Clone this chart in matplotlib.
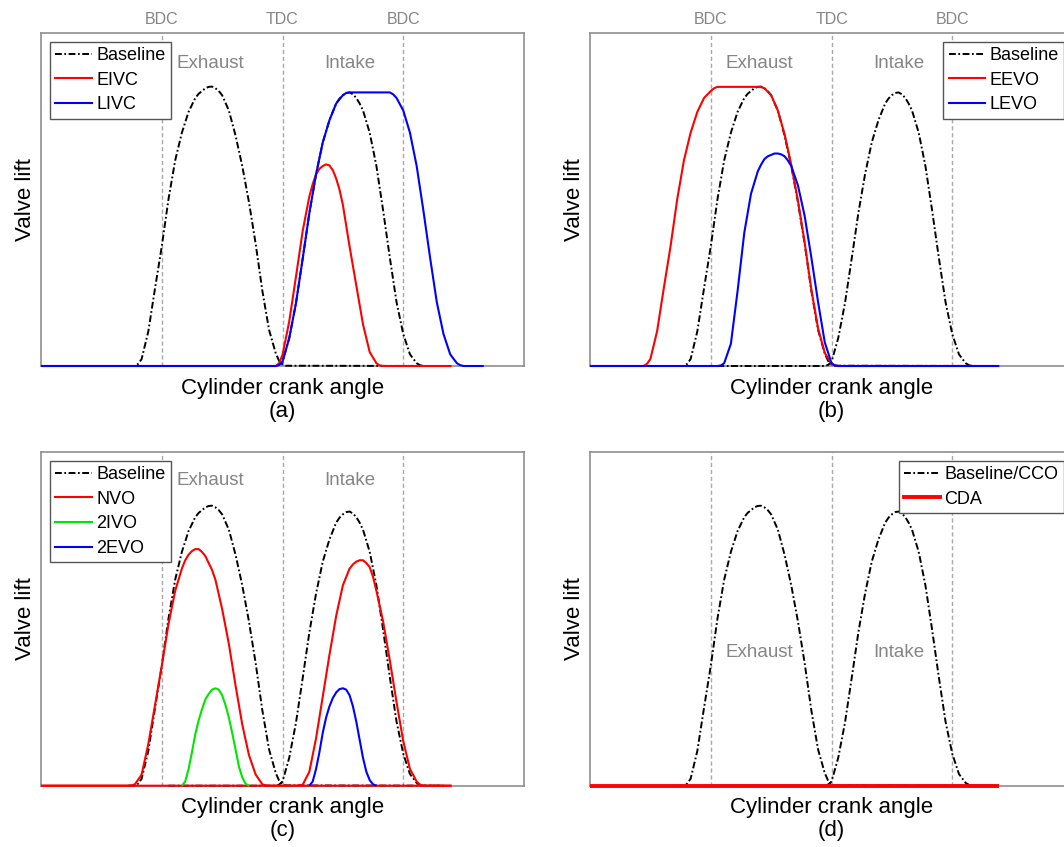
import matplotlib
matplotlib.use('Agg')
import matplotlib.pyplot as plt
from matplotlib.lines import Line2D

plt.rcParams['font.family'] = ['Liberation Sans', 'DejaVu Sans']

# ---------------- data (crank angle in degrees, valve lift normalised) ----------------
stroke_angles = [180, 360, 540]
stroke_names = ['BDC', 'TDC', 'BDC']
phase_names = ['Exhaust', 'Intake']
phase_angles = [252, 460]

# Baseline exhaust lobe
base_exh_ang = [130, 140, 145, 150, 160, 170, 180, 190, 200, 210, 220, 230, 235, 240, 245, 250,
                255, 260, 265, 270, 280, 290, 300, 310, 320, 330, 340, 350, 355, 360, 365, 600]
base_exh_lift = [0, 0, 0.008, 0.025, 0.125, 0.28, 0.43, 0.60, 0.74, 0.84, 0.915, 0.965, 0.98,
                 0.99, 1.0, 1.005, 1.006, 1.0, 0.99, 0.975, 0.92, 0.83, 0.72, 0.59, 0.44, 0.27,
                 0.13, 0.045, 0.018, 0.006, 0.001, 0]

# Baseline intake lobe
base_int_ang = [190, 350, 355, 360, 370, 380, 390, 400, 410, 420, 430, 440, 445, 450, 455, 460,
                465, 470, 475, 480, 490, 500, 510, 520, 530, 540, 550, 560, 565, 570, 600]
base_int_lift = [0, 0, 0.004, 0.015, 0.10, 0.225, 0.385, 0.55, 0.69, 0.805, 0.885, 0.945,
                 0.963, 0.975, 0.983, 0.985, 0.978, 0.965, 0.945, 0.92, 0.84, 0.72, 0.56, 0.39,
                 0.23, 0.115, 0.042, 0.01, 0.003, 0, 0]

# (a) EIVC / LIVC
eivc_ang = [0, 350, 355, 360, 370, 380, 390, 400, 405, 410, 415, 420, 425, 430, 435, 440, 445,
            450, 460, 470, 480, 490, 500, 505, 510, 612]
eivc_lift = [0, 0, 0.01, 0.04, 0.16, 0.32, 0.485, 0.61, 0.655, 0.69, 0.71, 0.72, 0.726, 0.722,
             0.705, 0.675, 0.635, 0.58, 0.43, 0.29, 0.15, 0.05, 0.01, 0.002, 0, 0]
livc_ang = [0, 350, 355, 360, 370, 380, 390, 400, 410, 420, 430, 440, 450, 455, 460, 520, 525,
            530, 540, 550, 560, 570, 580, 590, 600, 610, 620, 625, 630, 660]
livc_lift = [0, 0, 0.004, 0.015, 0.10, 0.225, 0.385, 0.55, 0.69, 0.805, 0.885, 0.945, 0.975,
             0.983, 0.985, 0.985, 0.978, 0.965, 0.92, 0.84, 0.72, 0.56, 0.39, 0.23, 0.115,
             0.042, 0.01, 0.003, 0, 0]

# (b) EEVO / LEVO
eevo_ang = [0, 80, 85, 90, 100, 110, 120, 130, 140, 150, 160, 170, 180, 185, 190, 250, 255,
            260, 270, 280, 290, 300, 310, 320, 330, 340, 350, 360, 365, 370, 610]
eevo_lift = [0, 0, 0.008, 0.025, 0.125, 0.28, 0.43, 0.60, 0.74, 0.84, 0.915, 0.965, 0.99,
             1.0, 1.005, 1.005, 1.004, 1.0, 0.975, 0.92, 0.835, 0.725, 0.595, 0.445, 0.275,
             0.135, 0.047, 0.008, 0.002, 0, 0]
levo_ang = [0, 190, 195, 200, 210, 220, 230, 240, 250, 255, 260, 265, 270, 275, 280, 285, 290,
            295, 300, 310, 320, 330, 340, 350, 360, 365, 370, 610]
levo_lift = [0, 0, 0.002, 0.01, 0.08, 0.27, 0.48, 0.62, 0.70, 0.725, 0.745, 0.755, 0.76, 0.765,
             0.765, 0.762, 0.755, 0.74, 0.72, 0.65, 0.54, 0.39, 0.23, 0.085, 0.01, 0.002, 0,
             0]

# (c) NVO (exhaust valve and intake valve), 2IVO, 2EVO
nvo_exh_ang = [0, 130, 135, 140, 150, 160, 170, 180, 190, 200, 210, 215, 220, 225, 230, 235,
               240, 245, 250, 255, 260, 270, 280, 290, 300, 310, 320, 330, 335, 340, 612]
nvo_exh_lift = [0, 0, 0.001, 0.005, 0.04, 0.15, 0.29, 0.43, 0.58, 0.70, 0.78, 0.81, 0.83,
                0.843, 0.85, 0.85, 0.84, 0.825, 0.80, 0.775, 0.74, 0.635, 0.51, 0.36, 0.22,
                0.11, 0.04, 0.005, 0.001, 0, 0]
nvo_int_ang = [0, 380, 385, 390, 400, 410, 420, 430, 440, 450, 460, 465, 470, 475, 480, 485,
               490, 495, 500, 510, 520, 530, 540, 550, 560, 565, 570, 612]
nvo_int_lift = [0, 0, 0.001, 0.003, 0.05, 0.17, 0.32, 0.47, 0.61, 0.72, 0.78, 0.795, 0.805,
                0.81, 0.81, 0.80, 0.785, 0.75, 0.70, 0.59, 0.45, 0.30, 0.16, 0.06, 0.015,
                0.004, 0, 0]
ivo2_ang = [210, 215, 220, 225, 230, 235, 240, 245, 250, 255, 260, 265, 270, 275, 280, 285,
            290, 295, 300, 305, 310]
ivo2_lift = [0, 0.015, 0.06, 0.12, 0.185, 0.235, 0.275, 0.31, 0.33, 0.345, 0.35, 0.345, 0.325,
             0.29, 0.245, 0.19, 0.13, 0.07, 0.03, 0.007, 0]
evo2_ang = [400, 405, 410, 415, 420, 425, 430, 435, 440, 445, 450, 455, 460, 465, 470, 475,
            480, 485, 490, 495, 500]
evo2_lift = [0, 0.015, 0.06, 0.12, 0.19, 0.245, 0.285, 0.315, 0.335, 0.347, 0.35, 0.345, 0.325,
             0.285, 0.23, 0.165, 0.10, 0.05, 0.02, 0.005, 0]

# (d) CDA
cda_ang = [0, 610]
cda_lift = [0, 0]

# ---------------- figure ----------------
W, H = 1064, 847
fig = plt.figure(figsize=(W / 100, H / 100), dpi=100)


def px_axes(left, top, right, bottom):
    return fig.add_axes([left / W, 1 - bottom / H, (right - left) / W, (bottom - top) / H])


axA = px_axes(41, 32.7, 524, 366)
axB = px_axes(590, 32.7, 1073, 366)
axC = px_axes(41, 451.7, 524, 785.7)
axD = px_axes(590, 451.7, 1073, 785.7)

GRAY_TXT = '#858585'
BASE_LS = (0, (3.5, 1.3, 0.9, 1.3))


def setup(ax, letter, top_labels, phase_y):
    ax.set_xlim(0, 720)
    ax.set_ylim(0, 1.2)
    ax.set_xticks([])
    ax.set_yticks([])
    for s in ax.spines.values():
        s.set_color('#8f8f8f')
        s.set_linewidth(1.2)
        s.set_zorder(1)
    for xv in stroke_angles:
        ax.axvline(xv, color='#a8a8a8', lw=1.0, ls=(0, (3, 2)), zorder=1)
    if top_labels:
        for xv, lab in zip(stroke_angles, stroke_names):
            ax.annotate(lab, xy=(xv, 1), xycoords=('data', 'axes fraction'),
                        xytext=(0, 9.3), textcoords='offset points', ha='center',
                        va='center', color=GRAY_TXT, fontsize=11.5)
    for xv, lab in zip(phase_angles, phase_names):
        ax.text(xv, phase_y, lab, ha='center', va='center', color=GRAY_TXT, fontsize=13.5,
                zorder=2)
    ax.annotate('Cylinder crank angle', xy=(0.5, 0), xycoords='axes fraction',
                xytext=(0, -16), textcoords='offset points', ha='center', va='center',
                fontsize=16)
    ax.annotate('(' + letter + ')', xy=(0.5, 0), xycoords='axes fraction',
                xytext=(0, -32.5), textcoords='offset points', ha='center', va='center',
                fontsize=16)
    ax.annotate('Valve lift', xy=(0, 0.5), xycoords='axes fraction',
                xytext=(-11, 0), textcoords='offset points', ha='center', va='center',
                rotation=90, fontsize=16)


def baseline(ax):
    ax.plot(base_exh_ang, base_exh_lift, color='black', lw=1.4, ls=BASE_LS, clip_on=False,
            zorder=3)
    ax.plot(base_int_ang, base_int_lift, color='black', lw=1.4, ls=BASE_LS, clip_on=False,
            zorder=3)


def curve(ax, x, y, color, lw=1.5, z=4):
    ax.plot(x, y, color=color, lw=lw, clip_on=False, zorder=z, solid_capstyle='butt',
            solid_joinstyle='round')


def legend(ax, items, loc):
    handles = []
    labels = []
    for lab, col, ls, lw in items:
        handles.append(Line2D([], [], color=col, ls=ls, lw=lw))
        labels.append(lab)
    leg = ax.legend(handles, labels, loc=loc, fontsize=13, frameon=True, fancybox=False,
                    framealpha=1, edgecolor='#555555', handlelength=2.0, handletextpad=0.25,
                    borderpad=0.3, labelspacing=0.42, borderaxespad=0.5)
    leg.get_frame().set_linewidth(1.0)
    leg.set_zorder(10)


RED = '#ff0000'
BLUE = '#0000ff'
GREEN = '#00e600'

# (a)
setup(axA, 'a', True, 1.09)
baseline(axA)
curve(axA, eivc_ang, eivc_lift, RED, z=4)
curve(axA, livc_ang, livc_lift, BLUE, z=5)
legend(axA, [('Baseline', 'black', BASE_LS, 1.4), ('EIVC', RED, '-', 1.5),
             ('LIVC', BLUE, '-', 1.5)], 'upper left')

# (b)
setup(axB, 'b', True, 1.09)
baseline(axB)
curve(axB, eevo_ang, eevo_lift, RED, z=4)
curve(axB, levo_ang, levo_lift, BLUE, z=5)
legend(axB, [('Baseline', 'black', BASE_LS, 1.4), ('EEVO', RED, '-', 1.5),
             ('LEVO', BLUE, '-', 1.5)], 'upper right')

# (c)
setup(axC, 'c', False, 1.095)
baseline(axC)
curve(axC, nvo_exh_ang, nvo_exh_lift, RED, z=4)
curve(axC, nvo_int_ang, nvo_int_lift, RED, z=4)
curve(axC, ivo2_ang, ivo2_lift, GREEN, z=5)
curve(axC, evo2_ang, evo2_lift, BLUE, z=6)
legend(axC, [('Baseline', 'black', BASE_LS, 1.4), ('NVO', RED, '-', 1.5),
             ('2IVO', GREEN, '-', 1.5), ('2EVO', BLUE, '-', 1.5)], 'upper left')

# (d)
setup(axD, 'd', False, 0.478)
baseline(axD)
curve(axD, cda_ang, cda_lift, RED, lw=2.8, z=4)
legend(axD, [('Baseline/CCO', 'black', BASE_LS, 1.4), ('CDA', RED, '-', 2.8)],
       'upper right')

fig.savefig('out.png', dpi=100)
